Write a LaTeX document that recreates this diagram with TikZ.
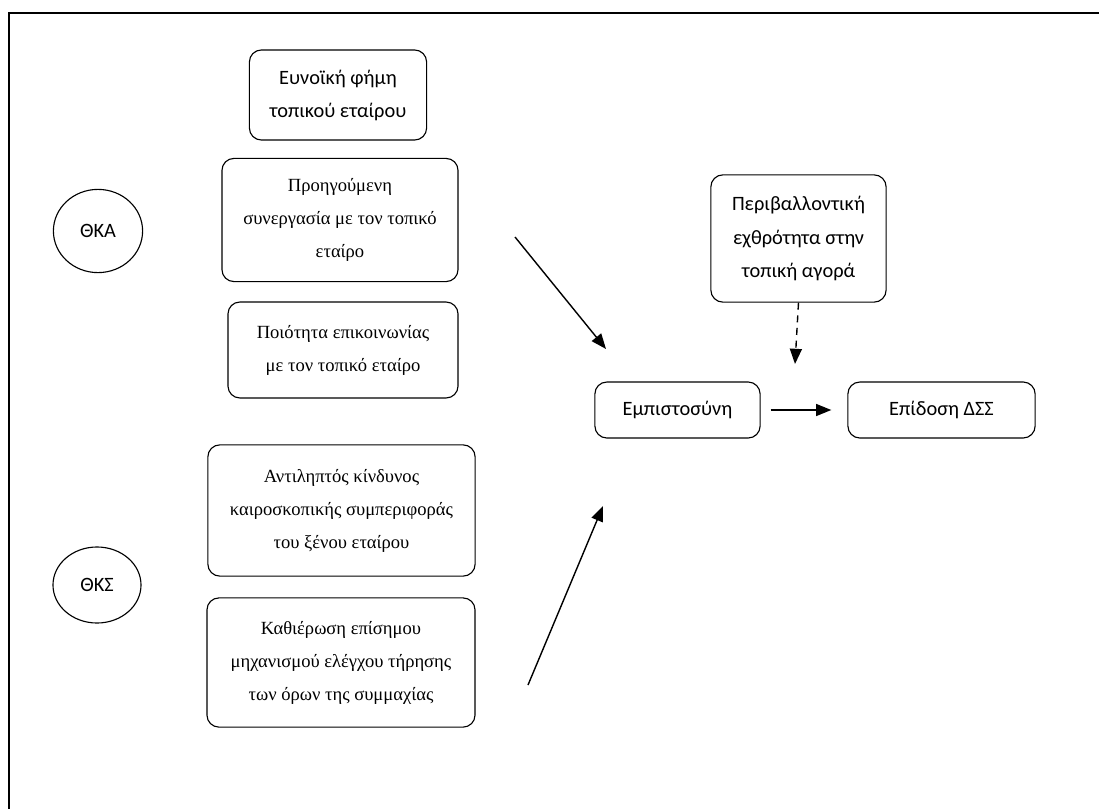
\documentclass[tikz,border=0pt]{standalone}
\usepackage{fontspec}
\setmainfont{Liberation Serif}
\setsansfont{Carlito}
\usetikzlibrary{arrows.meta,shapes.geometric}

\tikzstyle{sansbox}=[shape=rectangle,rounded corners=0.3cm,draw,line width=0.8pt,align=center,
  font=\sffamily\fontsize{14.5}{23.5}\selectfont]
\tikzstyle{serifbox}=[shape=rectangle,rounded corners=0.3cm,draw,line width=0.8pt,align=center,
  font=\rmfamily\fontsize{13.2}{23.5}\selectfont]
\tikzstyle{theory}=[shape=ellipse,draw,line width=0.8pt,inner sep=0pt,
  font=\sffamily\fontsize{14.5}{17}\selectfont]
\tikzstyle{arr}=[-{Triangle[length=0.38cm,width=0.3cm]},line width=1pt]

\begin{document}
\begin{tikzpicture}[x=0.025cm,y=-0.025cm]
        \useasboundingbox (0,0) rectangle (1099,809);
        \draw[line width=1.3pt] (9,809) -- (9,13) -- (1099,13);
        \node[theory,minimum width=2.23cm,minimum height=2.08cm] at (98,231) (tka) {ΘΚΑ};
        \node[theory,minimum width=2.2cm,minimum height=1.9cm] at (97,585) (tks) {ΘΚΣ};
        \node[sansbox,minimum width=4.43cm,minimum height=2.25cm] at (338,95) (fimi) {Ευνοϊκή φήμη\\τοπικού εταίρου};
        \node[serifbox,minimum width=5.9cm,minimum height=3.08cm] at (340,220) (synergasia) {Προηγούμενη\\συνεργασία με τον τοπικό\\εταίρο};
        \node[serifbox,minimum width=5.75cm,minimum height=2.4cm] at (343,350) (epikoinonia) {Ποιότητα επικοινωνίας\\με τον τοπικό εταίρο};
        \node[serifbox,minimum width=6.68cm,minimum height=3.28cm] at (341.5,510.5) (kindynos) {Αντιληπτός κίνδυνος\\καιροσκοπικής συμπεριφοράς\\του ξένου εταίρου};
        \node[serifbox,minimum width=6.7cm,minimum height=3.23cm] at (341,662.5) (elegxos) {Καθιέρωση επίσημου\\μηχανισμού ελέγχου τήρησης\\των όρων της συμμαχίας};
        \node[sansbox,minimum width=4.38cm,minimum height=3.18cm] at (798.5,238.5) (echthrotita) {Περιβαλλοντική\\εχθρότητα στην\\τοπική αγορά};
        \node[sansbox,minimum width=4.13cm,minimum height=1.4cm] at (677.5,410) (empistosyni) {Εμπιστοσύνη};
        \node[sansbox,minimum width=4.68cm,minimum height=1.4cm] at (941.5,410) (epidosi) {Επίδοση ΔΣΣ};
        \coordinate (upstart) at (515,237);
        \coordinate (upend) at (606,349);
        \coordinate (lowstart) at (528,685);
        \coordinate (lowend) at (603,506);
        \coordinate (modend) at (795,364);
        \draw [arr] (upstart) -- (upend);
        \draw [arr] (lowstart) -- (lowend);
        \draw [arr,dash pattern=on 5pt off 4pt] (echthrotita.south) -- (modend);
        \draw [arr,shorten <=0.25cm,shorten >=0.4cm] (empistosyni.east) -- (epidosi.west);
    \end{tikzpicture}
\end{document}
